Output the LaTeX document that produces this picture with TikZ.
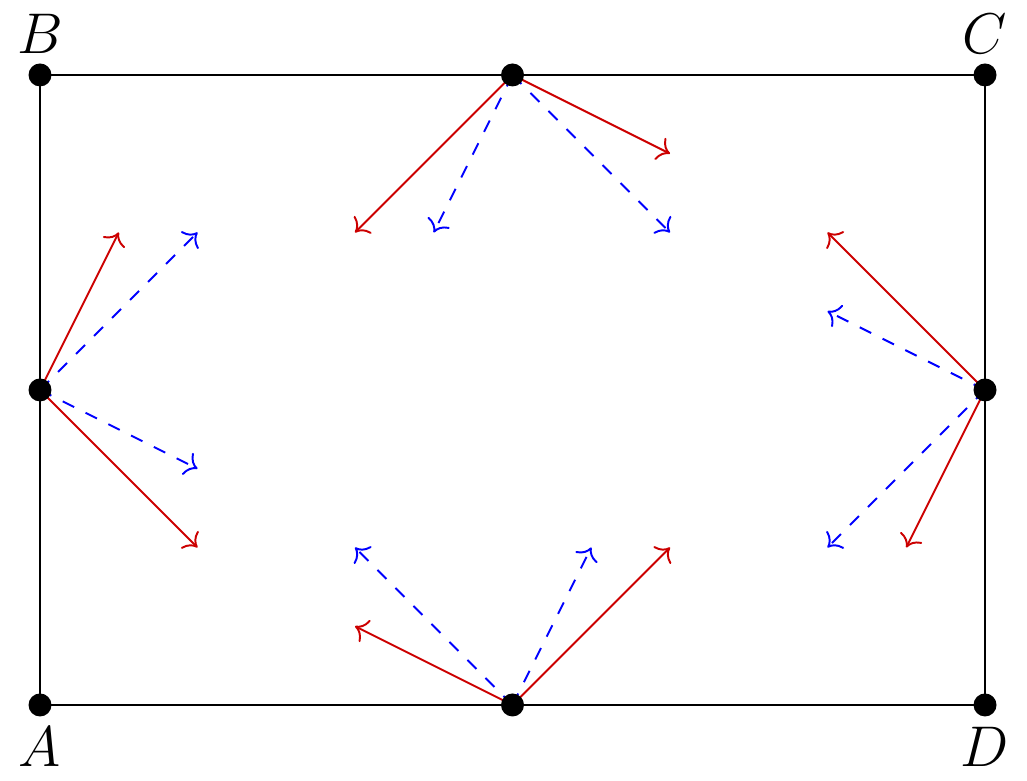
\documentclass[tikz,border=0pt]{standalone}
\usetikzlibrary{arrows.meta}
\begin{document}
\begin{tikzpicture}[
    >={To[scale=1.35]},
    punkt/.style={circle, fill=black, inner sep=0pt, minimum size=8.3pt},
    beschr/.style={font=\fontsize{22}{26}\selectfont},
    rot/.style={->, red!80!black, line width=0.7pt},
    blau/.style={->, blue, line width=0.7pt, dash pattern=on 4.6pt off 4.6pt}
]
    \useasboundingbox (-0.508,-0.965) rectangle (12.533,8.952);

    % Eckpunkte und Seitenmitten
    \coordinate (A) at (0,0);
    \coordinate (B) at (0,8);
    \coordinate (C) at (12,8);
    \coordinate (D) at (12,0);
    \coordinate (O) at (6,8);
    \coordinate (U) at (6,0);
    \coordinate (L) at (0,4);
    \coordinate (R) at (12,4);

    % Rechteck
    \draw[line width=1pt] (A) -- (B) -- (C) -- (D) -- cycle;

    % Pfeile von der oberen Mitte
    \foreach \n/\x/\y in {o1/4/6, o2/8/7} {
        \coordinate (\n) at (\x,\y);
        \draw[rot] (O) -- (\n);
    }
    \foreach \n/\x/\y in {o3/5/6, o4/8/6} {
        \coordinate (\n) at (\x,\y);
        \draw[blau] (O) -- (\n);
    }

    % Pfeile von der linken Mitte
    \foreach \n/\x/\y in {l1/1/6, l2/2/2} {
        \coordinate (\n) at (\x,\y);
        \draw[rot] (L) -- (\n);
    }
    \foreach \n/\x/\y in {l3/2/6, l4/2/3} {
        \coordinate (\n) at (\x,\y);
        \draw[blau] (L) -- (\n);
    }

    % Pfeile von der rechten Mitte
    \foreach \n/\x/\y in {r1/10/6, r2/11/2} {
        \coordinate (\n) at (\x,\y);
        \draw[rot] (R) -- (\n);
    }
    \foreach \n/\x/\y in {r3/10/5, r4/10/2} {
        \coordinate (\n) at (\x,\y);
        \draw[blau] (R) -- (\n);
    }

    % Pfeile von der unteren Mitte
    \foreach \n/\x/\y in {u1/4/1, u2/8/2} {
        \coordinate (\n) at (\x,\y);
        \draw[rot] (U) -- (\n);
    }
    \foreach \n/\x/\y in {u3/4/2, u4/7/2} {
        \coordinate (\n) at (\x,\y);
        \draw[blau] (U) -- (\n);
    }

    % Punkte mit Beschriftung
    \node[punkt, label={[beschr]below:$A$}] (pA) at (A) {};
    \node[punkt, label={[beschr]above:$B$}] (pB) at (B) {};
    \node[punkt, label={[beschr]above:$C$}] (pC) at (C) {};
    \node[punkt, label={[beschr]below:$D$}] (pD) at (D) {};
    \foreach \p in {O, U, L, R}
        \node[punkt] (p\p) at (\p) {};
\end{tikzpicture}
\end{document}
